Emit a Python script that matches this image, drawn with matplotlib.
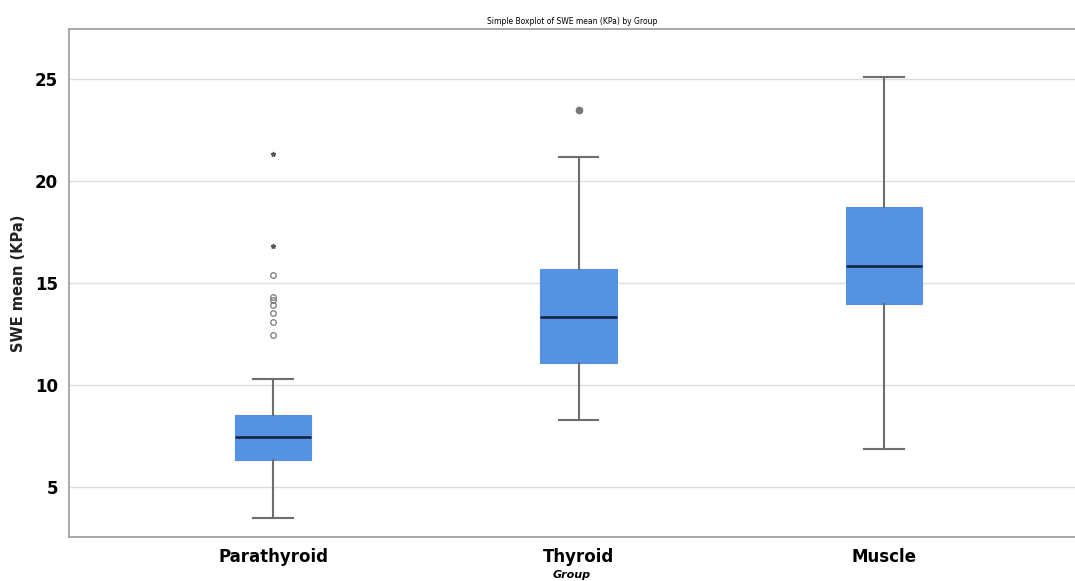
import matplotlib
matplotlib.use("Agg")
import matplotlib.pyplot as plt

# значення
groups = ["Parathyroid", "Thyroid", "Muscle"]
whislo = [3.5, 8.3, 6.85]
q1 = [6.35, 11.1, 14.0]
med = [7.45, 13.35, 15.85]
q3 = [8.55, 15.7, 18.75]
whishi = [10.3, 21.2, 25.1]
outliers = [[15.4, 14.3, 14.15, 13.95, 13.55, 13.1, 12.45], [23.5], []]
extremes = [[21.35, 16.8], [], []]

fig = plt.figure(figsize=(10.75, 5.81), dpi=100)
ax = fig.add_axes([0.0642, 0.0757, 0.9358, 0.874])

stats = []
for i, g in enumerate(groups):
    stats.append({"label": g, "whislo": whislo[i], "q1": q1[i], "med": med[i],
                  "q3": q3[i], "whishi": whishi[i], "fliers": outliers[i]})

ax.bxp(stats, positions=[1, 2, 3], widths=0.25, capwidths=0.13, patch_artist=True,
       boxprops=dict(facecolor="#5592e2", edgecolor="#5592e2", linewidth=0.8),
       medianprops=dict(color="#12203f", linewidth=1.8),
       whiskerprops=dict(color="#6e6e6e", linewidth=1.5),
       capprops=dict(color="#6e6e6e", linewidth=1.5),
       flierprops=dict(marker="o", markersize=4, markerfacecolor="none",
                       markeredgecolor="#777777", markeredgewidth=0.9),
       zorder=3)

# Thyroid: кілька збіжних викидів виглядають як заповнена точка
ax.plot([2], outliers[1], linestyle="none", marker="o", markersize=4.5,
        color="#777777", zorder=4)

for i, ex in enumerate(extremes):
    if ex:
        ax.plot([i + 1] * len(ex), ex, linestyle="none", marker="*", markersize=3.5,
                color="#555555", zorder=4)

ax.set_xlim(0.332, 3.625)
ax.set_ylim(2.55, 27.45)
ax.set_yticks([5, 10, 15, 20, 25])
ax.yaxis.grid(True, color="#dddddd", linewidth=1)
ax.set_axisbelow(True)
ax.tick_params(length=0, labelsize=12, pad=8)
for lbl in ax.get_xticklabels() + ax.get_yticklabels():
    lbl.set_fontweight("bold")

for s in ["left", "bottom", "top"]:
    ax.spines[s].set_color("#999999")
    ax.spines[s].set_linewidth(1.2)
ax.spines["right"].set_visible(False)

ax.set_ylabel("SWE mean (KPa)", fontsize=10.5, fontweight="bold", color="#222222", labelpad=6)
ax.set_xlabel("Group", fontsize=8, fontweight="bold", style="italic", labelpad=3)
ax.set_title("Simple Boxplot of SWE mean (KPa) by Group", fontsize=5.5, pad=4)

fig.savefig("out.png", dpi=100)
